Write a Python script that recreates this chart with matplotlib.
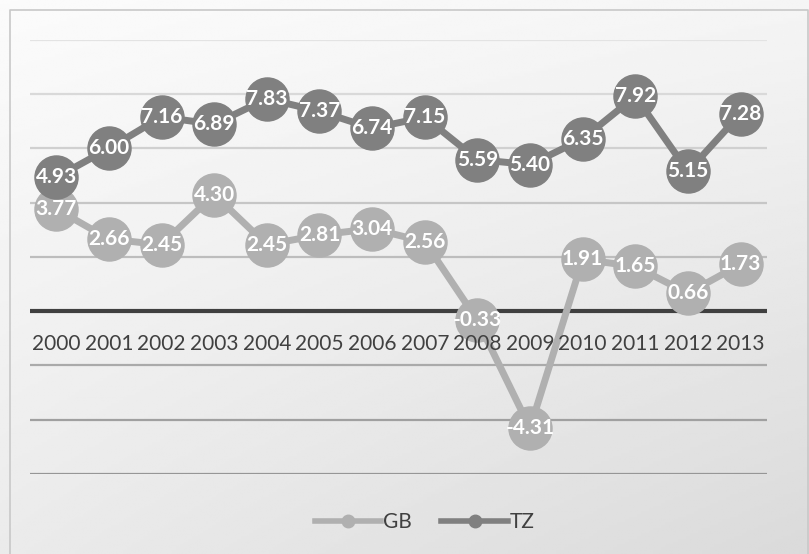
import numpy as np
import matplotlib.pyplot as plt
from matplotlib.lines import Line2D

years = ['2000', '2001', '2002', '2003', '2004', '2005', '2006',
         '2007', '2008', '2009', '2010', '2011', '2012', '2013']
gb = [3.77, 2.66, 2.45, 4.30, 2.45, 2.81, 3.04, 2.56, -0.33, -4.31, 1.91, 1.65, 0.66, 1.73]
tz = [4.93, 6.00, 7.16, 6.89, 7.83, 7.37, 6.74, 7.15, 5.59, 5.40, 6.35, 7.92, 5.15, 7.28]

gb_color = '#b0b0b0'
tz_color = '#808080'

plt.rcParams['font.family'] = ['Lato', 'DejaVu Sans']

fig = plt.figure(figsize=(8.09, 5.54), dpi=100)

# gradient background behind the chart
bg = fig.add_axes([0, 0, 1, 1], zorder=-10)
gx, gy = np.meshgrid(np.linspace(0, 1, 200), np.linspace(0, 1, 200))
grad = 0.985 - 0.13 * (0.5 * gx + 0.5 * gy) + 0.04 * gx * (1 - gy)
bg.imshow(grad, cmap='gray', vmin=0, vmax=1, extent=[0, 1, 0, 1], aspect='auto', origin='upper')
bg.plot([0.0124, 0.0124, 0.999, 0.999], [0, 0.982, 0.982, 0], color='#c8c8c8', lw=1.2,
        transform=bg.transAxes)
bg.set_xlim(0, 1)
bg.set_ylim(0, 1)
bg.axis('off')

ax = fig.add_axes([0.037, 0.1444, 0.911, 0.7836])
ax.patch.set_alpha(0)
x = np.arange(len(years))

# gridlines, darker towards the bottom like the reference
levels = [10, 8, 6, 4, 2, -2, -4, -6]
for lv in levels:
    t = (10 - lv) / 16
    c = 0.89 - 0.30 * t
    ax.axhline(lv, color=(c, c, c), lw=1.6, zorder=0)
ax.axhline(0, color='#404040', lw=3, zorder=1)

ax.plot(x, gb, color=gb_color, lw=5, marker='o', markersize=31, zorder=3, label='GB')
ax.plot(x, tz, color=tz_color, lw=5, marker='o', markersize=31, zorder=4, label='TZ')

for xi, v in zip(x, gb):
    ax.text(xi, v, f'{v:.2f}', ha='center', va='center', color='white',
            fontsize=15, fontweight='bold', zorder=6)
for xi, v in zip(x, tz):
    ax.text(xi, v, f'{v:.2f}', ha='center', va='center', color='white',
            fontsize=15, fontweight='bold', zorder=7)

# category labels sit just under the zero line, drawn over the series
for xi, yr in zip(x, years):
    ax.text(xi, -1.2, yr, ha='center', va='center', color='#404040', fontsize=15, zorder=5)

ax.set_xlim(-0.5, len(years) - 0.5)
ax.set_ylim(-6, 10)
ax.axis('off')

handles = [Line2D([0], [0], color=gb_color, lw=4, marker='o', markersize=9),
           Line2D([0], [0], color=tz_color, lw=4, marker='o', markersize=9)]
leg = fig.legend(handles, ['GB', 'TZ'], loc='center', bbox_to_anchor=(0.525, 0.058),
                 ncol=2, frameon=False, fontsize=15, handlelength=3.2,
                 columnspacing=1.4, handletextpad=0.1)
for t in leg.get_texts():
    t.set_color('#404040')

fig.savefig('out.png', dpi=100)
